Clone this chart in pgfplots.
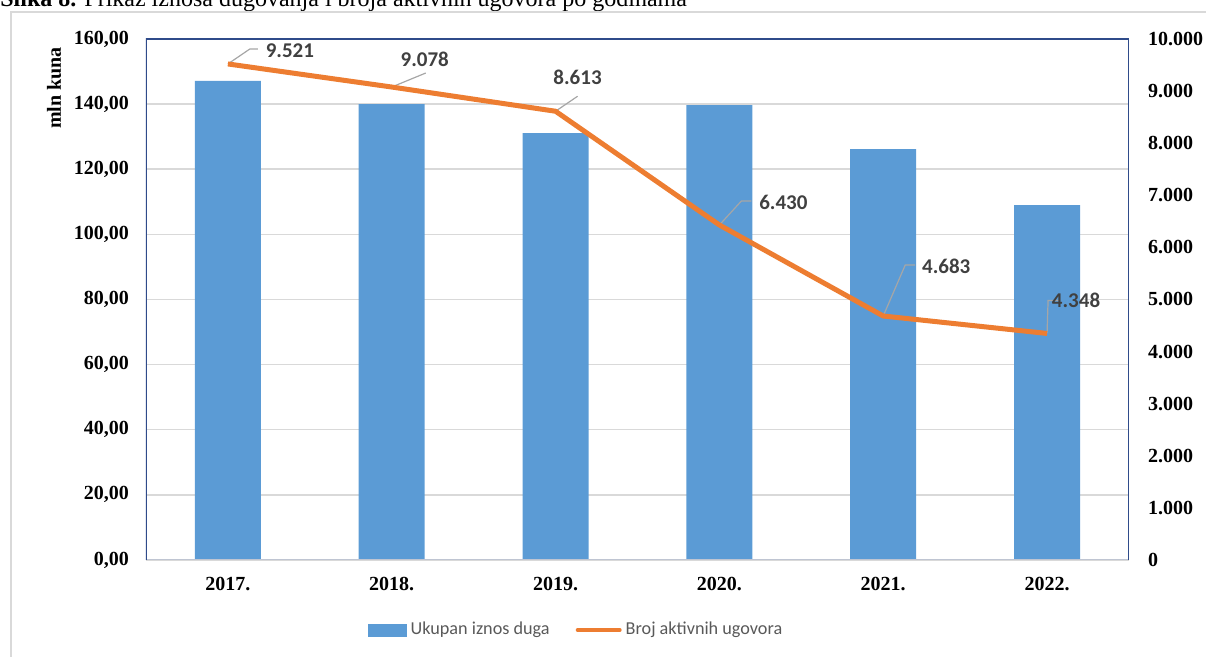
\documentclass[border=0pt]{standalone}
\usepackage{pgfplots}
\pgfplotsset{compat=1.18}
\usepackage{pgfplotstable}
\usepackage{fontspec}
\setmainfont{Liberation Serif}
\newfontfamily\calib{Carlito}
\definecolor{barblue}{HTML}{5B9BD5}
\definecolor{lineor}{HTML}{ED7D31}
\definecolor{gridg}{HTML}{D9D9D9}
\definecolor{navy}{HTML}{2F4B8A}
\definecolor{botg}{HTML}{BFC5D2}
\definecolor{lbl}{HTML}{404040}
\definecolor{legc}{HTML}{595959}
\definecolor{leader}{HTML}{A6A6A6}

\pgfplotstableread{
x y
0 147.1
1 140.0
2 131.1
3 139.7
4 126.2
5 109.0
}\dug

\pgfplotstableread{
x y lab dx dy
0 9521 9.521 62 13
1 9078 9.078 33 28
2 8613 8.613 22 34
3 6430 6.430 64 23
4 4683 4.683 63 50
5 4348 4.348 29 33
}\ugo

\begin{document}
\begin{tikzpicture}
\useasboundingbox (0,0) rectangle (603pt,328.5pt);
\begin{scope}
\clip (0,0) rectangle (603pt,328.5pt);
\pgfinterruptboundingbox
\node[anchor=base west, inner sep=0, font=\fontsize{12}{14}\selectfont] at (0pt,325pt) {\textbf{Slika 8.} Prikaz iznosa dugovanja i broja aktivnih ugovora po godinama};
\endpgfinterruptboundingbox
\end{scope}
\draw[gridg, line width=0.75pt] (5.5pt,0pt) -- (5.5pt,322.5pt) -- (603pt,322.5pt);

\begin{axis}[
  at={(73pt,48.5pt)}, anchor=south west, scale only axis,
  width=491.5pt, height=260.5pt,
  xmin=-0.5, xmax=5.5, ymin=0, ymax=160,
  xtick={0,1,2,3,4,5},
  xticklabels={2017.,2018.,2019.,2020.,2021.,2022.},
  ytick={0,20,40,60,80,100,120,140,160},
  major tick length=0pt,
  axis line style={draw=none},
  ymajorgrids, grid style={gridg, line width=0.75pt},
  /pgf/number format/assume math mode=true,
  ticklabel style={font=\bfseries\fontsize{10}{12}\selectfont, text=black},
  yticklabel style={/pgf/number format/fixed, /pgf/number format/zerofill,
    /pgf/number format/precision=2, /pgf/number format/use comma, xshift=-5pt},
  xticklabel style={yshift=-5pt},
  ylabel={mln kuna},
  ylabel style={at={(axis description cs:-0.0936,0.906)}, anchor=center, font=\bfseries\fontsize{10}{12}\selectfont},
]
\addplot[ybar, bar width=33pt, bar shift=0pt, fill=barblue, draw=none] table[x=x,y=y]{\dug};
\draw[botg, line width=0.9pt] (rel axis cs:0,0) -- (rel axis cs:1,0);
\draw[navy, line width=0.9pt] (rel axis cs:0,0) -- (rel axis cs:0,1) -- (rel axis cs:1,1) -- (rel axis cs:1,0);
\end{axis}

\begin{axis}[
  at={(73pt,48.5pt)}, anchor=south west, scale only axis,
  width=491.5pt, height=260.5pt,
  xmin=-0.5, xmax=5.5, ymin=0, ymax=10000,
  xtick=\empty,
  ytick={0,1000,2000,3000,4000,5000,6000,7000,8000,9000,10000},
  yticklabel pos=right,
  scaled y ticks=false,
  major tick length=0pt,
  axis line style={draw=none},
  /pgf/number format/assume math mode=true,
  ticklabel style={font=\bfseries\fontsize{10}{12}\selectfont, text=black},
  yticklabel style={/pgf/number format/1000 sep={.}, xshift=6pt},
  legend style={draw=none, fill=none, at={(axis description cs:0.4385,-0.1344)}, anchor=center,
    legend columns=2, font=\calib\fontsize{9.1}{11}\selectfont, text=legc,
    /tikz/every even column/.append style={column sep=11pt}},
]
\addlegendimage{legend image code/.code={\fill[barblue] (0pt,-3pt) rectangle (19pt,3pt);}}
\addlegendentry{Ukupan iznos duga}
\addlegendimage{legend image code/.code={\draw[lineor, line width=2pt, line cap=round] (0pt,0pt) -- (21pt,0pt);}}
\addlegendentry{Broj aktivnih ugovora}

\draw[leader, line width=0.6pt] (axis cs:0,9521) -- ++(11pt,7.5pt) -- ++(4pt,0pt);
\draw[leader, line width=0.6pt] (axis cs:1,9078) -- ++(17pt,7pt);
\draw[leader, line width=0.6pt] (axis cs:2,8613) -- ++(11pt,7.5pt);
\draw[leader, line width=0.6pt] (axis cs:3,6430) -- ++(11pt,12pt) -- ++(5pt,0pt);
\draw[leader, line width=0.6pt] (axis cs:4,4683) -- ++(11pt,25.5pt) -- ++(5pt,0pt);
\draw[leader, line width=0.6pt] (axis cs:5,4348) -- ++(0.5pt,16.5pt) -- ++(5.5pt,0pt);

\addplot[forget plot, lineor, line width=2.5pt, line join=round, mark=none,
  nodes near coords, point meta=explicit symbolic,
  visualization depends on={\thisrow{dx} \as \dx},
  visualization depends on={\thisrow{dy} \as \dy},
  every node near coord/.style={anchor=center, inner sep=0pt, text=lbl,
    font=\calib\bfseries\fontsize{10.5}{12}\selectfont,
    xshift=\dx*0.5pt, yshift=\dy*0.5pt},
] table[x=x,y=y,meta=lab]{\ugo};
\end{axis}
\end{tikzpicture}
\end{document}
